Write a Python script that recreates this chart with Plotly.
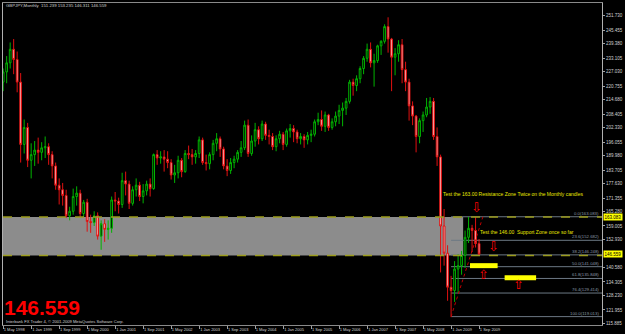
import plotly.graph_objects as go
import pandas as pd

# ---------------- data (GBPJPY monthly, May 1998 .. Sep 2009) ----------------
opens = [
    222.5, 227.0, 231.0, 237.0, 232.5, 222.5, 195.0, 202.5,
    188.0, 190.5, 192.5, 191.5, 193.5, 194.0, 190.5, 185.5, 177.0, 175.0, 172.5, 163.5,
    165.5, 172.0, 173.5, 164.5, 169.5, 161.0, 160.5, 163.5, 154.5, 160.0, 157.5, 158.0,
    170.5, 170.0, 168.5, 179.0, 177.5, 169.0, 175.0, 177.0, 172.0, 174.5, 177.5, 175.5,
    190.5, 189.0, 189.5, 188.5, 187.0, 181.5, 182.5, 188.0, 183.0, 191.0, 190.5, 189.5,
    191.0, 197.0, 187.0, 186.5, 190.5, 195.5, 197.5, 193.0, 185.5, 183.5, 187.0, 188.5,
    191.5, 193.5, 203.5, 191.0, 196.5, 201.5, 197.5, 204.0, 199.0, 198.5, 194.0, 197.5,
    199.5, 195.0, 201.0, 202.0, 200.5, 197.5, 198.5, 197.0, 199.0, 199.5, 205.0, 206.0,
    203.0, 208.0, 202.5, 205.0, 207.5, 210.0, 211.0, 214.0, 222.5, 221.0, 224.0, 228.5,
    233.0, 237.0, 231.0, 232.0, 238.5, 240.5, 247.0, 241.5, 233.5, 235.0, 239.0, 228.0,
    222.5, 212.0, 207.5, 198.5, 205.5, 208.0, 211.5, 214.0, 198.5, 189.5, 159.0, 147.0,
    132.0, 130.5, 140.0, 141.5, 146.0, 154.0, 158.0, 157.0, 151.239,
]
highs = [
    228.5, 234.0, 240.0, 241.5, 236.0, 226.5, 206.0, 204.5,
    195.5, 196.5, 198.0, 196.0, 198.5, 195.5, 192.0, 187.0, 180.0, 178.0, 175.0, 167.5,
    175.5, 176.5, 175.0, 170.5, 171.0, 164.0, 165.5, 165.0, 161.5, 162.0, 161.5, 172.0,
    174.0, 171.5, 182.5, 183.0, 179.0, 176.5, 180.0, 178.5, 177.5, 179.0, 180.0, 191.0,
    192.5, 192.0, 192.5, 192.0, 188.5, 186.0, 190.0, 189.0, 192.5, 194.5, 193.0, 192.5,
    198.5, 198.0, 190.5, 191.5, 197.0, 200.0, 198.5, 194.0, 188.5, 189.0, 190.0, 192.5,
    196.5, 205.5, 206.0, 199.0, 204.5, 203.0, 205.5, 205.0, 201.5, 200.0, 199.0, 201.0,
    200.5, 202.0, 204.0, 203.5, 201.5, 200.0, 199.5, 200.5, 201.5, 206.0, 209.0, 210.0,
    209.5, 208.5, 206.5, 209.5, 212.5, 213.5, 215.5, 223.5, 224.0, 225.5, 229.5, 234.0,
    239.5, 240.0, 235.0, 239.0, 241.0, 248.0, 251.1, 242.0, 237.5, 241.0, 241.5, 231.5,
    224.0, 214.0, 208.0, 206.5, 209.5, 215.5, 215.9, 215.5, 202.5, 190.5, 166.5, 150.5,
    137.0, 143.5, 146.5, 148.0, 157.0, 163.0, 159.5, 163.083, 153.235,
]
lows = [
    218.5, 222.0, 228.5, 226.0, 218.0, 187.0, 191.0, 185.0,
    180.0, 185.5, 186.5, 188.0, 189.0, 186.0, 180.0, 175.0, 168.5, 168.0, 162.5, 161.5,
    164.0, 168.0, 163.0, 163.0, 156.5, 156.0, 159.0, 153.0, 148.5, 152.0, 153.0, 156.0,
    165.5, 164.5, 167.0, 172.5, 166.5, 168.0, 172.0, 170.0, 169.0, 172.5, 172.0, 175.0,
    186.0, 186.5, 183.0, 184.5, 179.5, 178.0, 180.0, 180.5, 182.5, 188.5, 186.0, 186.5,
    189.0, 186.0, 183.5, 184.0, 188.0, 192.0, 189.5, 184.0, 181.0, 182.0, 184.5, 187.0,
    189.5, 192.5, 189.5, 190.0, 194.0, 195.0, 196.5, 197.0, 195.0, 192.5, 192.0, 195.5,
    192.5, 194.0, 198.0, 196.0, 195.5, 195.0, 193.5, 195.0, 196.0, 198.5, 203.5, 201.0,
    200.5, 201.0, 201.5, 203.0, 204.0, 203.0, 208.0, 213.0, 216.5, 218.5, 222.0, 226.0,
    231.5, 229.0, 220.5, 231.0, 234.5, 239.5, 235.5, 218.5, 225.5, 231.5, 222.0, 218.5,
    205.5, 203.5, 191.5, 195.5, 200.5, 207.0, 208.5, 197.0, 185.5, 138.5, 141.5, 126.0,
    118.8, 125.5, 129.5, 137.5, 140.5, 151.5, 147.5, 149.5, 146.311,
]
closes = [
    227.0, 231.0, 237.0, 232.5, 222.5, 195.0, 202.5, 188.0,
    190.5, 192.5, 191.5, 193.5, 194.0, 190.5, 185.5, 177.0, 175.0, 172.5, 163.5, 165.5,
    172.0, 173.5, 164.5, 169.5, 161.0, 160.5, 163.5, 154.5, 160.0, 157.5, 158.0, 170.5,
    170.0, 168.5, 179.0, 177.5, 169.0, 175.0, 177.0, 172.0, 174.5, 177.5, 175.5, 190.5,
    189.0, 189.5, 188.5, 187.0, 181.5, 182.5, 188.0, 183.0, 191.0, 190.5, 189.5, 191.0,
    197.0, 187.0, 186.5, 190.5, 195.5, 197.5, 193.0, 185.5, 183.5, 187.0, 188.5, 191.5,
    193.5, 203.5, 191.0, 196.5, 201.5, 197.5, 204.0, 199.0, 198.5, 194.0, 197.5, 199.5,
    195.0, 201.0, 202.0, 200.5, 197.5, 198.5, 197.0, 199.0, 199.5, 205.0, 206.0, 203.0,
    208.0, 202.5, 205.0, 207.5, 210.0, 211.0, 214.0, 222.5, 221.0, 224.0, 228.5, 233.0,
    237.0, 231.0, 232.0, 238.5, 240.5, 247.0, 241.5, 233.5, 235.0, 239.0, 228.0, 222.5,
    212.0, 207.5, 198.5, 205.5, 208.0, 211.5, 214.0, 198.5, 189.5, 159.0, 147.0, 132.0,
    130.5, 140.0, 141.5, 146.0, 154.0, 158.0, 157.0, 151.2, 146.559,
]
months = [d.strftime("%Y-%m") for d in pd.date_range("1998-05-01", periods=len(opens), freq="MS")]

x_tick_months = ["1998-05", "1999-01", "1999-09", "2000-05", "2001-01", "2001-09",
                 "2002-05", "2003-01", "2003-09", "2004-05", "2005-01", "2005-09",
                 "2006-05", "2007-01", "2007-09", "2008-05", "2009-01", "2009-09"]
x_tick_labels = ["1 May 1998", "1 Jan 1999", "1 Sep 1999", "1 May 2000", "1 Jan 2001",
                 "1 Sep 2001", "1 May 2002", "1 Jan 2003", "1 Sep 2003", "1 May 2004",
                 "1 Jan 2005", "1 Sep 2005", "1 May 2006", "1 Jan 2007", "1 Sep 2007",
                 "1 May 2008", "1 Jan 2009", "1 Sep 2009"]
y_tick_labels = ["251.730", "245.455", "239.380", "233.105", "227.030", "220.755",
                 "214.680", "208.405", "202.330", "196.055", "189.980", "183.705",
                 "177.630", "171.355", "165.280", "159.005", "152.930", "140.580",
                 "134.305", "128.230", "121.955", "115.885"]

resistance = 163.0
support = 146.0
fib_high = 163.083
fib_low = 119.013
fib_levels = [0.0, 23.6, 38.2, 50.0, 61.8, 76.4, 100.0]
last_price = 146.559
title_text = "GBPJPY,Monthly\u00a0\u00a0151.239 153.235 146.311 146.559"

# ---------------- figure ----------------
x = list(range(len(opens)))
idx = {m: i for i, m in enumerate(months)}
XMIN, XMAX = -0.05, 171.13
YMIN, YMAX = 115.31, 257.41

fig = go.Figure(go.Candlestick(
    x=x, open=opens, high=highs, low=lows, close=closes,
    increasing=dict(line=dict(color="#00b400", width=1), fillcolor="#000000"),
    decreasing=dict(line=dict(color="#e01010", width=1), fillcolor="#ffc4c4"),
    whiskerwidth=0, hoverinfo="skip",
))

shapes = []
# grey zone
shapes.append(dict(type="rect", xref="x", yref="y", x0=XMIN - 1, x1=idx["2009-04"] + 0.45,
                   y0=support, y1=resistance, fillcolor="#8c8c8c", line=dict(width=0), layer="below"))
# dashed zone lines
for lvl in (resistance, support):
    shapes.append(dict(type="line", xref="paper", yref="y", x0=0, x1=1, y0=lvl, y1=lvl,
                       line=dict(color="#9c9c1c", width=1.5, dash="dash"), layer="above"))
# fib lines
fib_start = idx["2009-01"]
fib_prices = [fib_high - lv / 100.0 * (fib_high - fib_low) for lv in fib_levels]
for p in fib_prices:
    shapes.append(dict(type="line", xref="x", yref="y", x0=fib_start, x1=XMAX, y0=p, y1=p,
                       line=dict(color="#6c7884", width=1), layer="below"))
# fib trend line (dotted)
shapes.append(dict(type="line", xref="x", yref="y", x0=fib_start, x1=fib_start + 9.1,
                   y0=fib_low, y1=fib_high, line=dict(color="#c00000", width=1, dash="dot")))
# yellow target boxes
shapes.append(dict(type="rect", xref="x", yref="y", x0=133.4, x1=141.3, y0=140.4, y1=142.6,
                   fillcolor="#ffff00", line=dict(width=0)))
shapes.append(dict(type="rect", xref="x", yref="y", x0=143.3, x1=152.3, y0=135.1, y1=137.3,
                   fillcolor="#ffff00", line=dict(width=0)))

FONT = "Liberation Sans, Arial, sans-serif"
ann = []
ann.append(dict(xref="paper", yref="paper", x=0.002, y=0.991, xanchor="left", yanchor="middle",
                text=title_text, showarrow=False, font=dict(size=4.3, color="#d0d0d0", family=FONT)))
ann.append(dict(xref="paper", yref="paper", x=-0.001, y=0.012, xanchor="left", yanchor="bottom",
                text="<b>146.559</b>", showarrow=False, font=dict(size=21, color="#ff0000", family=FONT)))
ann.append(dict(xref="paper", yref="paper", x=0.002, y=0.012, xanchor="left", yanchor="middle",
                text="Interbank FX Trader 4, © 2001-2009 MetaQuotes Software Corp.", showarrow=False,
                font=dict(size=4.1, color="#d0d0d0", family=FONT)))
ann.append(dict(xref="x", yref="y", x=125.2, y=173.1, xanchor="left", yanchor="middle",
                text="Test the 163.00 Resistance Zone Twice on the Monthly candles", showarrow=False,
                font=dict(size=5, color="#e8e800", family=FONT)))
ann.append(dict(xref="x", yref="y", x=136.0, y=156.4, xanchor="left", yanchor="middle",
                text="Test the 146.00\u00a0\u00a0Support Zone once so far", showarrow=False,
                borderpad=0, font=dict(size=5, color="#e8e800", family=FONT)))
for ax_, ay_, ch in [(135.4, 167.0, "\u21e9"), (140.2, 150.0, "\u21e9"),
                     (137.4, 137.5, "\u21e7"), (147.3, 133.0, "\u21e7")]:
    ann.append(dict(xref="x", yref="y", x=ax_, y=ay_, xanchor="center", yanchor="middle",
                    text=ch, showarrow=False, font=dict(size=13, color="#ff0000", family="DejaVu Sans")))
for lv, p in zip(fib_levels, fib_prices):
    ann.append(dict(xref="paper", yref="y", x=0.9967, y=p, xanchor="right", yanchor="bottom",
                    text=f"{lv:.1f}({p:.3f})", showarrow=False, borderpad=0,
                    font=dict(size=4.3, color="#8a98a6", family=FONT)))
for p, txt in [(fib_high, f"{fib_high:.3f}"), (last_price, f"{last_price:.3f}")]:
    ann.append(dict(xref="paper", yref="y", x=1.0017, y=p, xanchor="left", yanchor="middle",
                    text=txt, showarrow=False, bgcolor="#ffff00", borderpad=0.5,
                    font=dict(size=4.5, color="#000000", family=FONT)))

fig.update_layout(
    width=625, height=334, autosize=False,
    margin=dict(l=2, r=17, t=2, b=7, pad=0),
    paper_bgcolor="#000000", plot_bgcolor="#000000",
    showlegend=False, shapes=shapes, annotations=ann,
    xaxis=dict(range=[XMIN, XMAX], rangeslider=dict(visible=False),
               tickvals=[idx[m] for m in x_tick_months], ticktext=x_tick_labels,
               ticks="outside", ticklen=3, tickcolor="#a0a0a0", tickwidth=1,
               tickfont=dict(size=4, color="#d0d0d0", family=FONT),
               ticklabelshift=11, ticklabelstandoff=-3,
               showgrid=False, zeroline=False, showline=True, linecolor="#8a8a8a",
               linewidth=1, mirror=True),
    yaxis=dict(range=[YMIN, YMAX], side="right",
               tickvals=[float(v) for v in y_tick_labels], ticktext=y_tick_labels,
               ticks="outside", ticklen=2, tickcolor="#a0a0a0",
               tickfont=dict(size=4.5, color="#d0d0d0", family=FONT),
               showgrid=False, zeroline=False, showline=True, linecolor="#b0b0b0",
               linewidth=1, mirror=True),
)

fig.write_html("out.html", config={"displayModeBar": False})
